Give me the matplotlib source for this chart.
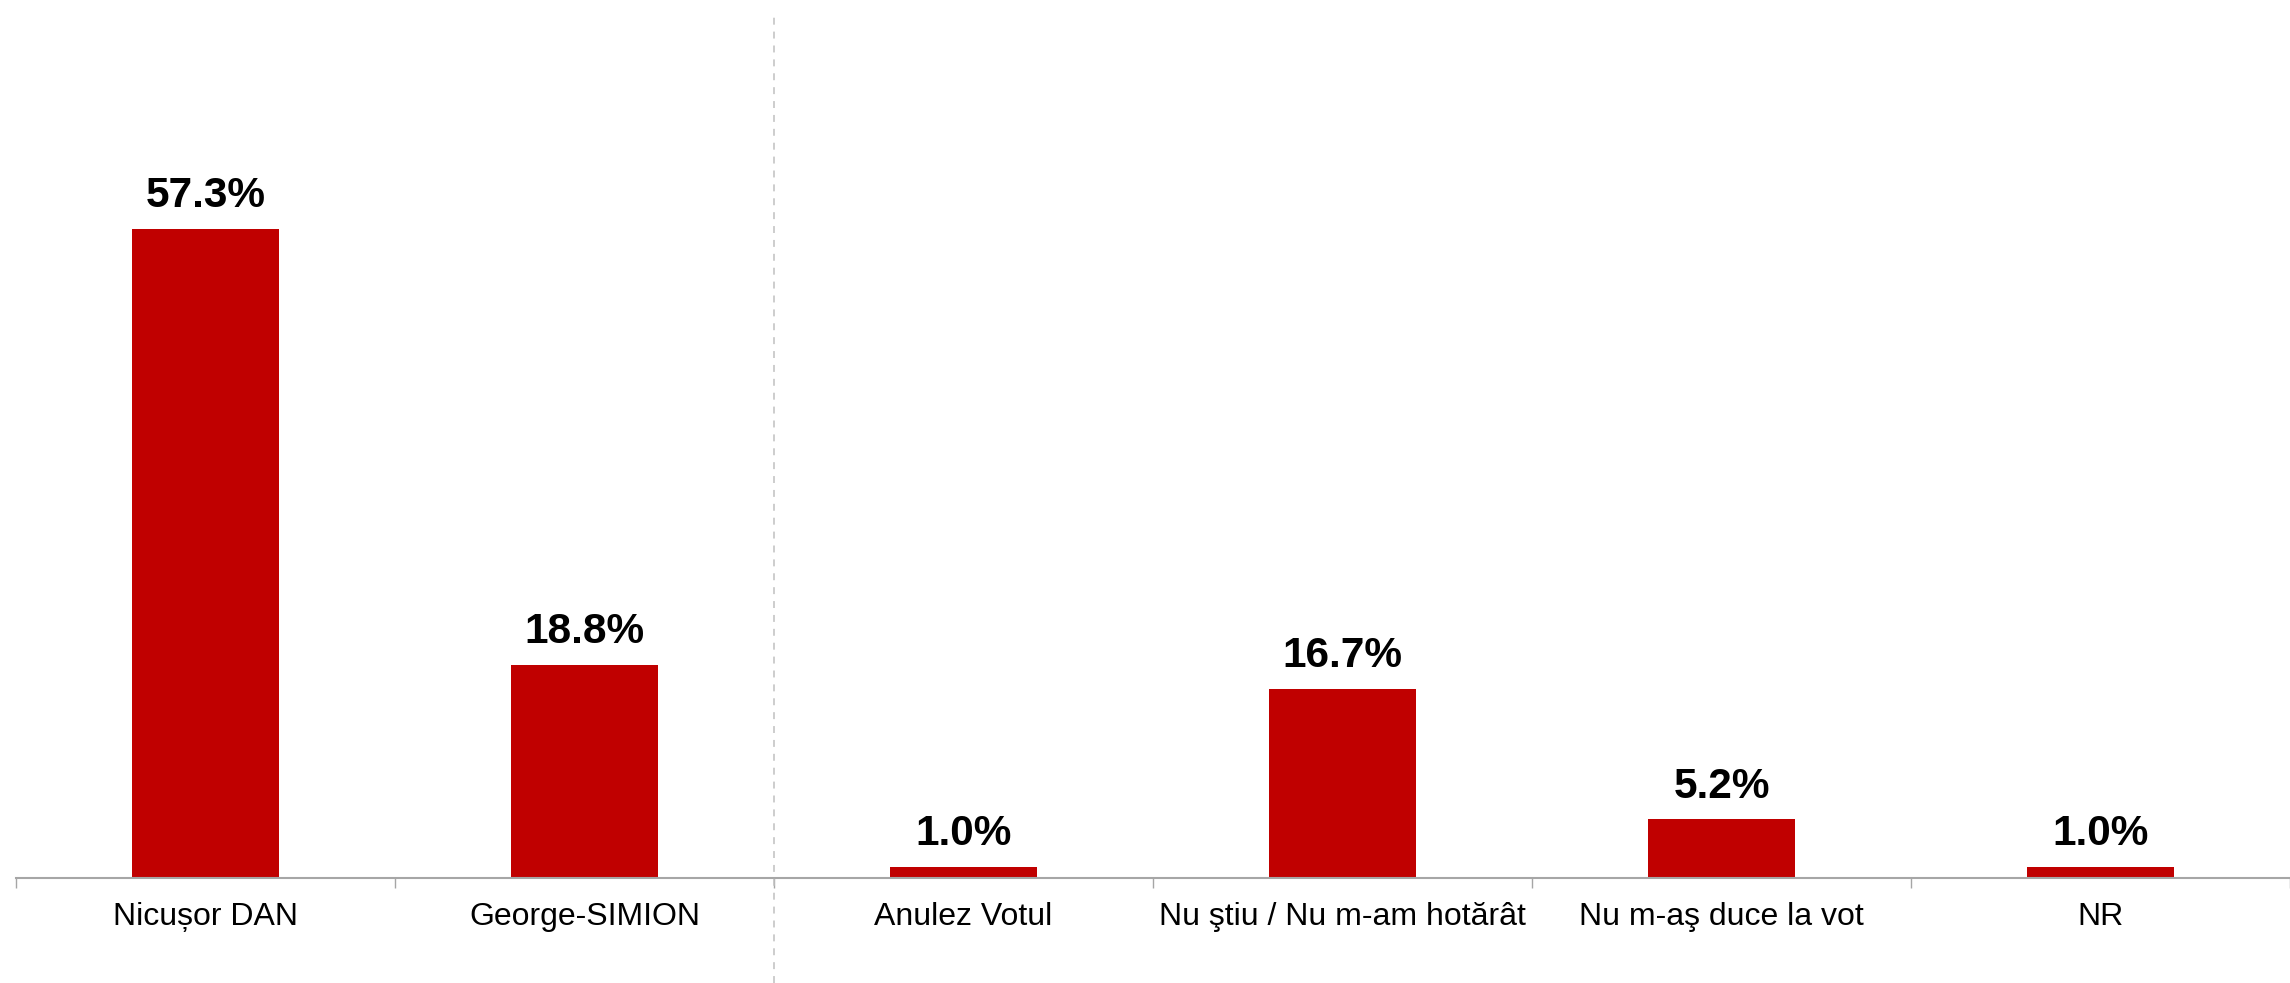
import matplotlib
matplotlib.use("Agg")
import matplotlib.pyplot as plt
from matplotlib.lines import Line2D
from matplotlib.transforms import blended_transform_factory

categories = ["Nicușor DAN", "George-SIMION", "Anulez Votul",
              "Nu ştiu / Nu m-am hotărât", "Nu m-aş duce la vot", "NR"]
values = [57.3, 18.8, 1.0, 16.7, 5.2, 1.0]

plt.rcParams['font.family'] = ['Liberation Sans', 'DejaVu Sans']
plt.rcParams['lines.scale_dashes'] = False

W, H, DPI = 2290, 983, 100
fig = plt.figure(figsize=(W / DPI, H / DPI), dpi=DPI)
ax = fig.add_axes([16 / W, (H - 878) / H, 1 - 16 / W, 878 / H])

x = list(range(len(categories)))
bars = ax.bar(x, values, width=0.39, color="#C00000", zorder=2)

for xi, v in zip(x, values):
    ax.annotate(f"{v:.1f}%", xy=(xi, v), xytext=(0, 15.5), textcoords="offset points",
                ha="center", va="baseline", fontsize=30.5, fontweight="bold", color="black")

ax.set_xlim(-0.5, 5.448)
ax.set_ylim(0, 77.5)

for s in ["top", "right", "left"]:
    ax.spines[s].set_visible(False)
ax.spines["bottom"].set_color("#a6a6a6")
ax.spines["bottom"].set_linewidth(1.5)
ax.spines["bottom"].set_zorder(3)
ax.set_yticks([])

bounds = [i - 0.5 for i in range(len(categories) + 1)]
ax.set_xticks(bounds)
ax.set_xticklabels([])
ax.tick_params(axis="x", which="major", length=7.2, width=1.0, color="#a6a6a6", direction="out")
ax.set_xticks(x, minor=True)
ax.set_xticklabels(categories, minor=True, fontsize=23)
ax.tick_params(axis="x", which="minor", length=0, pad=17.5)

tr = blended_transform_factory(ax.transData, fig.transFigure)
line = Line2D([1.5, 1.5], [0, 1 - 14 / H], transform=tr, color="#c0c0c0",
              linewidth=1.1, linestyle=(0, (5, 5)))
fig.add_artist(line)

fig.savefig("out.png", dpi=DPI, facecolor="white")
